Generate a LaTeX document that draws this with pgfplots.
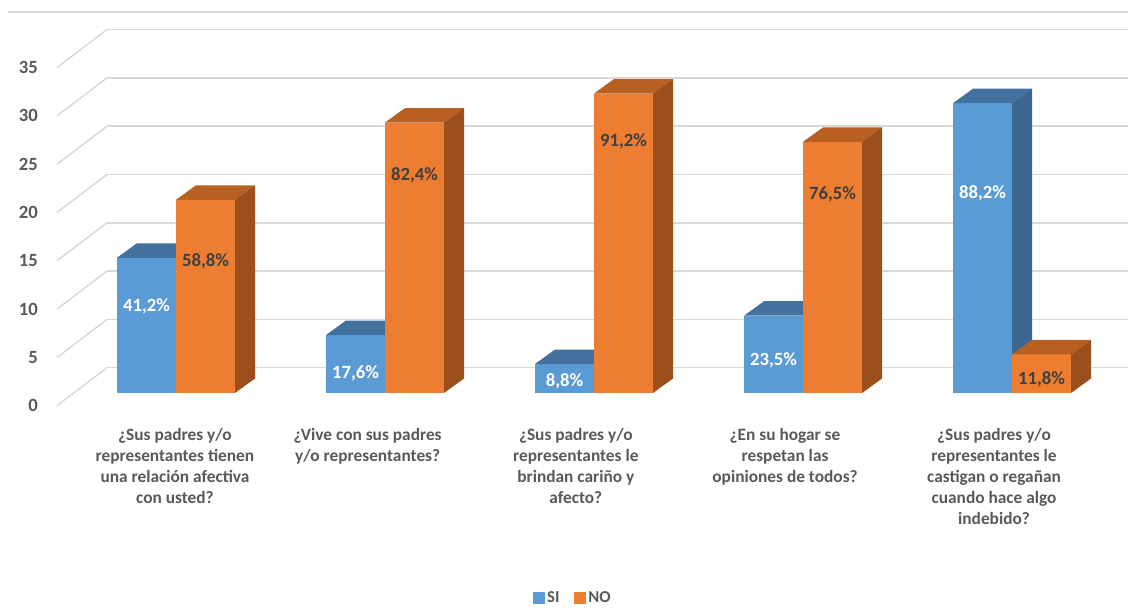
\documentclass[border=0pt]{standalone}
\usepackage{pgfplots}
\pgfplotsset{compat=1.18}
\usepackage{fontspec}
\setmainfont{Carlito}
\definecolor{txt}{HTML}{595959}
\definecolor{gridc}{HTML}{D9D9D9}
\definecolor{bfront}{HTML}{5B9BD5}
\definecolor{btop}{HTML}{41719C}
\definecolor{bside}{HTML}{3A6690}
\definecolor{ofront}{HTML}{ED7D31}
\definecolor{otop}{HTML}{B85F22}
\definecolor{oside}{HTML}{9A4F1D}
\definecolor{lab}{HTML}{404040}
\pgfdeclareplotmark{nothing}{}
\newcommand\boxthreed[4]{%
 \pgfmathsetmacro\bxA{#1*0.75}%
 \pgfmathsetmacro\bxB{(#1+59)*0.75}%
 \pgfmathsetmacro\bxC{(#1+79)*0.75}%
 \pgfmathsetmacro\bxD{(#1+20)*0.75}%
 \pgfmathsetmacro\bdz{14.5*0.75}%
 \pgfmathsetmacro\bhh{\yv*7.245}%
 \pgfmathsetmacro\bhb{\bdz-\bhh}%
 \pgfscope
 \pgfsetfillcolor{#2}%
 \pgfpathrectanglecorners{\pgfpoint{\bxA pt}{0pt}}{\pgfpoint{\bxB pt}{-\bhh pt}}%
 \pgfusepath{fill}%
 \pgfsetfillcolor{#3}%
 \pgfpathmoveto{\pgfpoint{\bxA pt}{0pt}}%
 \pgfpathlineto{\pgfpoint{\bxB pt}{0pt}}%
 \pgfpathlineto{\pgfpoint{\bxC pt}{\bdz pt}}%
 \pgfpathlineto{\pgfpoint{\bxD pt}{\bdz pt}}%
 \pgfpathclose
 \pgfusepath{fill}%
 \pgfsetfillcolor{#4}%
 \pgfpathmoveto{\pgfpoint{\bxB pt}{0pt}}%
 \pgfpathlineto{\pgfpoint{\bxC pt}{\bdz pt}}%
 \pgfpathlineto{\pgfpoint{\bxC pt}{\bhb pt}}%
 \pgfpathlineto{\pgfpoint{\bxB pt}{-\bhh pt}}%
 \pgfpathclose
 \pgfusepath{fill}%
 \endpgfscope
}
\begin{document}
\begin{tikzpicture}
\fill[white] (0,0) rectangle (846pt,459pt);
\path[use as bounding box] (0,0) rectangle (846pt,459pt);
\draw[gridc, line width=1pt] (6pt,450pt) -- (846pt,450pt);
\begin{axis}[
 at={(53.625pt,164.25pt)}, anchor=south west,
 x=156.75pt, y=7.245pt,
 xmin=-0.5, xmax=4.5, ymin=0, ymax=36,
 enlargelimits=false, clip=false,
 axis line style={draw=none}, tick style={draw=none},
 ytick=\empty,
 xtick={-0.005,0.917,1.913,2.914,3.914},
 xticklabels={{¿Sus padres y/o\\representantes tienen\\una relación afectiva\\con usted?},
  {¿Vive con sus padres\\y/o representantes?},
  {¿Sus padres y/o\\representantes le\\brindan cariño y\\afecto?},
  {¿En su hogar se\\respetan las\\opiniones de todos?},
  {¿Sus padres y/o\\representantes le\\castigan o regañan\\cuando hace algo\\indebido?}},
 xticklabel style={anchor=north, align=center, inner sep=0pt, yshift=-26pt,
   font=\fontsize{13}{15.75}\selectfont\bfseries, text=txt},
 legend columns=2,
 legend style={draw=none, fill=none, at={(0.48,-0.589)}, anchor=center,
   font=\fontsize{12.5}{14}\selectfont\bfseries, text=txt,
   /tikz/every even column/.append style={column sep=9pt}},
 legend image code/.code={\fill[#1] (0pt,-4.1pt) rectangle (8.2pt,4.1pt);},
]
\pgfplotsinvokeforeach{0,5,10,15,20,25,30,35}{
 \draw[gridc, line width=1.1pt] ([shift={(24.975pt,18.975pt)}]axis cs:-0.4895,#1) -- ([shift={(24.975pt,18.975pt)}]axis cs:4.45,#1);
 \draw[gridc, line width=1.1pt] ([shift={(24.975pt,18.975pt)}]axis cs:-0.4895,#1) -- ++(-37.5pt,-28.5pt);
 \node[anchor=east, text=txt, font=\fontsize{14}{16}\selectfont\bfseries, inner sep=0pt] at ([shift={(-26.775pt,-9.525pt)}]axis cs:-0.4895,#1) {#1};
}
\addplot[scatter, only marks, mark=nothing, forget plot,
  visualization depends on={rawy \as \yv},
  scatter/@pre marker code/.code={\boxthreed{-59}{bfront}{btop}{bside}},
  scatter/@post marker code/.code={}]
  coordinates {(0,14) (1,6) (2,3) (3,8) (4,30)};
\addplot[scatter, only marks, mark=nothing, forget plot,
  visualization depends on={rawy \as \yv},
  scatter/@pre marker code/.code={\boxthreed{0}{ofront}{otop}{oside}},
  scatter/@post marker code/.code={}]
  coordinates {(0,20) (1,28) (2,31) (3,26) (4,4)};
\addplot[forget plot, draw=none, mark=none, nodes near coords, point meta=explicit symbolic,
  every node near coord/.append style={anchor=center, text=white, inner sep=0pt, font=\fontsize{14}{16}\selectfont\bfseries}]
  coordinates {(-0.1411,8.94) [41,2\%] (0.8589,2.07) [17,6\%] (1.8589,1.24) [8,8\%] (2.8589,3.42) [23,5\%] (3.8589,20.7) [88,2\%]};
\addplot[forget plot, draw=none, mark=none, nodes near coords, point meta=explicit symbolic,
  every node near coord/.append style={anchor=center, text=lab, inner sep=0pt, font=\fontsize{14}{16}\selectfont\bfseries}]
  coordinates {(0.1411,13.63) [58,8\%] (1.1411,22.57) [82,4\%] (2.1411,26.09) [91,2\%] (3.1411,20.6) [76,5\%] (4.1411,1.45) [11,8\%]};
\addlegendimage{bfront}
\addlegendentry{SI}
\addlegendimage{ofront}
\addlegendentry{NO}
\end{axis}
\end{tikzpicture}
\end{document}
